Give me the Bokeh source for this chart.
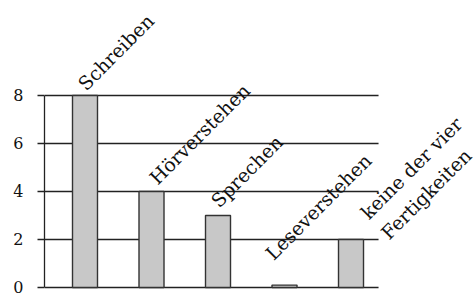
import math
from bokeh.plotting import figure
from bokeh.models import ColumnDataSource, FixedTicker, Range1d
from bokeh.core.properties import value
from bokeh.embed import file_html
from bokeh.resources import INLINE

# data
categories = ["Schreiben", "Hörverstehen", "Sprechen", "Leseverstehen", "keine der vier\nFertigkeiten"]
counts = [8, 4, 3, 0.1, 2]
y_ticks = [0, 2, 4, 6, 8]

# style: pixel offsets of each rotated label from its bar top
label_dx = [4, 9, 4, -8, 41]
label_dy = [-1, -3, -4, -21, 4]

xs = list(range(1, len(categories) + 1))
x_start = 0.391
x_grid_end = len(categories) + 0.414

p = figure(width=476, height=297, output_backend="svg", toolbar_location=None,
           x_range=Range1d(x_start, 6.887), y_range=Range1d(-0.125, 11.958),
           x_axis_location=None, min_border_left=44, min_border_right=0,
           min_border_top=0, min_border_bottom=7)
p.outline_line_color = None
p.xgrid.visible = False
p.ygrid.visible = False

# horizontal grid lines limited to the bar area
p.segment(x0=[x_start] * len(y_ticks), x1=[x_grid_end] * len(y_ticks), y0=y_ticks, y1=y_ticks,
          line_color="#222222", line_width=1.3)

src = ColumnDataSource(dict(x=xs, top=counts, cat=categories, dx=label_dx, dy=label_dy))
p.vbar(x="x", top="top", bottom=0, width=0.376, source=src,
       fill_color="#c8c8c8", line_color="#333333", line_width=1.4)

p.text(x="x", y="top", text="cat", source=src, angle=math.pi / 4,
       x_offset="dx", y_offset="dy", text_align="left", text_baseline="bottom",
       text_font=value("DejaVu Serif"), text_font_size="19px", text_color="#111111",
       text_line_height=1.3)

ax = p.yaxis[0]
ax.ticker = FixedTicker(ticks=y_ticks)
ax.bounds = (0, 8)
ax.axis_line_color = "#222222"
ax.axis_line_width = 1.3
ax.major_tick_line_color = "#222222"
ax.major_tick_line_width = 1.3
ax.major_tick_out = 7
ax.major_tick_in = 0
ax.minor_tick_line_color = None
ax.major_label_standoff = 14
ax.major_label_text_font = "DejaVu Serif"
ax.major_label_text_font_size = "16px"
ax.major_label_text_color = "#111111"

open("out.html", "w").write(file_html(p, INLINE))
